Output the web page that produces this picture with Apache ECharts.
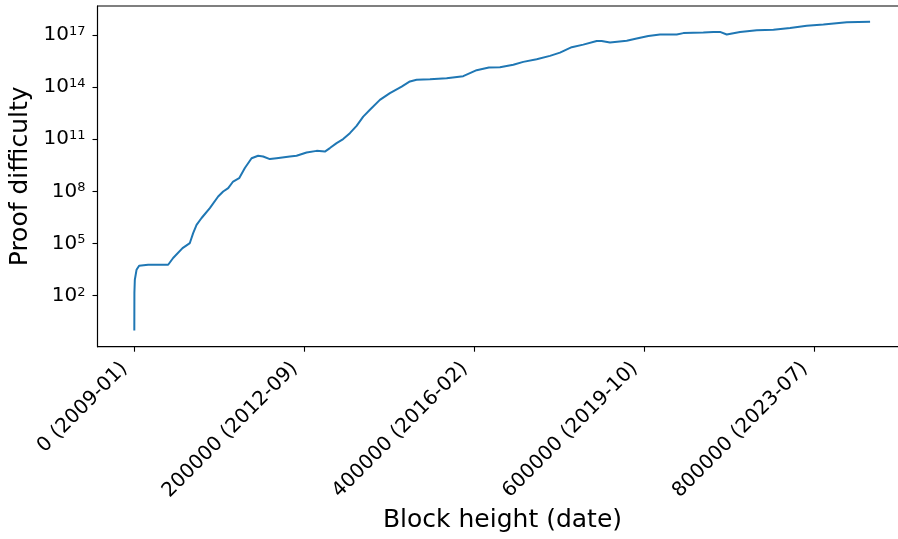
<!DOCTYPE html>
<html>
<head>
<meta charset="utf-8">
<script src="https://cdn.jsdelivr.net/npm/echarts@6/dist/echarts.min.js"></script>
<style>
  html, body { margin: 0; padding: 0; background: #ffffff; }
  #chart { width: 898px; height: 539px; }
</style>
</head>
<body>
<div id="chart"></div>
<script>
// Block heights sampled along the chain
const blockHeights = [
  0, 100, 600, 2600, 5650, 16200, 39800, 45650, 56700, 65300,
  69200, 73200, 79100, 88800, 98600, 104500, 110400, 116200, 123300, 130000,
  137900, 145600, 151500, 159400, 167300, 182900, 190800, 202600, 214400, 224100,
  230000, 237900, 245600, 253500, 261400, 269200, 277100, 288800, 300600, 314400,
  324100, 332000, 347700, 367300, 386800, 402600, 417000, 430000, 445700, 457400,
  473200, 488800, 500600, 514400, 528000, 543800, 549600, 559400, 579100, 590800,
  604500, 618200, 637900, 645700, 669200, 681000, 688800, 696700, 712400, 732000,
  751600, 771200, 790800, 810400, 837900, 865300
];

// Proof difficulty at each sampled height
const difficulty = [
  1, 148, 832, 3090, 5250, 6030, 6030, 14800, 55000, 107000,
  398000, 1.2e6, 2.95e6, 1.1e7, 5.1e7, 9.8e7, 1.55e8, 3.7e8, 5.75e8, 2.2e9,
  8.1e9, 1.12e10, 1.02e10, 7.2e9, 8.1e9, 1.02e10, 1.12e10, 1.74e10, 2.14e10, 1.95e10,
  3.1e10, 6.0e10, 1.02e11, 2.24e11, 5.9e11, 2.0e12, 4.9e12, 1.82e13, 4.5e13, 1.07e14,
  2.1e14, 2.6e14, 2.8e14, 3.2e14, 4.2e14, 9.3e14, 1.32e15, 1.38e15, 1.9e15, 2.8e15,
  4.0e15, 6.2e15, 9.5e15, 1.95e16, 2.75e16, 4.4e16, 4.4e16, 3.6e16, 4.6e16, 6.2e16,
  8.7e16, 1.05e17, 1.05e17, 1.26e17, 1.35e17, 1.48e17, 1.48e17, 1.05e17, 1.45e17, 1.86e17,
  1.95e17, 2.45e17, 3.3e17, 3.9e17, 5.4e17, 5.75e17
];

// Tick labels: block height with the month it was mined
const xTickValues = [0, 200000, 400000, 600000, 800000];
const xTickDates = ['2009-01', '2012-09', '2016-02', '2019-10', '2023-07'];
const yTickExponents = [2, 5, 8, 11, 14, 17];

const FONT = 'DejaVu Sans';
const yTickValues = yTickExponents.map(e => Math.pow(10, e));

const chart = echarts.init(document.getElementById('chart'), null, { renderer: 'canvas' });

chart.setOption({
  animation: false,
  backgroundColor: '#ffffff',
  grid: {
    left: 97.5,
    top: 6,
    width: 810,
    height: 340.7,
    containLabel: false,
    outerBoundsMode: 'none',
    show: true,
    borderColor: '#000000',
    borderWidth: 1.1,
    backgroundColor: 'transparent'
  },
  xAxis: {
    type: 'value',
    min: -43300,
    max: 909300,
    name: 'Block height (date)',
    nameLocation: 'middle',
    nameGap: 155,
    nameTextStyle: { fontFamily: FONT, fontSize: 25, color: '#000000' },
    axisLine: { show: true, onZero: false, lineStyle: { color: '#000000', width: 1.1 } },
    axisTick: { show: true, length: 5, lineStyle: { color: '#000000', width: 1.1 }, customValues: xTickValues },
    splitLine: { show: false },
    axisLabel: {
      customValues: xTickValues,
      rotate: 45,
      margin: 9,
      padding: [0, 14, 0, 0],
      fontFamily: FONT,
      fontSize: 20,
      color: '#000000',
      formatter: function (v) {
        const i = xTickValues.indexOf(v);
        return v + ' (' + xTickDates[i] + ')';
      }
    }
  },
  yAxis: {
    type: 'log',
    logBase: 10,
    min: Math.pow(10, -0.93),
    max: Math.pow(10, 18.66),
    name: 'Proof difficulty',
    nameLocation: 'middle',
    nameGap: 55,
    nameRotate: 90,
    nameTextStyle: { fontFamily: FONT, fontSize: 25, color: '#000000' },
    axisLine: { show: true, onZero: false, lineStyle: { color: '#000000', width: 1.1 } },
    axisTick: { show: true, length: 5, lineStyle: { color: '#000000', width: 1.1 }, customValues: yTickValues },
    splitLine: { show: false },
    minorTick: { show: false },
    axisLabel: {
      customValues: yTickValues,
      margin: 12,
      fontFamily: FONT,
      color: '#000000',
      formatter: function (v) {
        const e = Math.round(Math.log10(v));
        return '{b|10}{s|' + e + '}';
      },
      rich: {
        b: { fontFamily: FONT, fontSize: 20, lineHeight: 20, color: '#000000' },
        s: { fontFamily: FONT, fontSize: 13, lineHeight: 13, verticalAlign: 'top', color: '#000000' }
      }
    }
  },
  series: [{
    type: 'line',
    data: blockHeights.map((b, i) => [b, difficulty[i]]),
    showSymbol: false,
    symbol: 'none',
    lineStyle: { color: '#1f77b4', width: 2 },
    itemStyle: { color: '#1f77b4' },
    clip: true
  }]
});
</script>
</body>
</html>
